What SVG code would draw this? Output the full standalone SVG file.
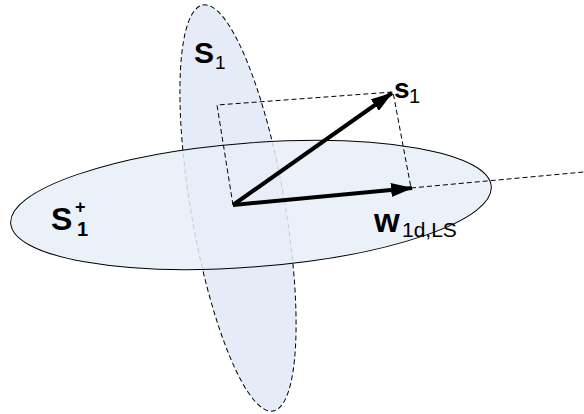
<svg xmlns="http://www.w3.org/2000/svg" width="584" height="414" viewBox="0 0 584 414">
<style>
.plane{fill:#e6ecf7;stroke:#000;stroke-width:1}
.dash{fill:none;stroke:#000;stroke-width:1;stroke-dasharray:5,3}
.vec{stroke:#000;stroke-width:4;fill:none}
.lbl{font-family:"Liberation Sans",Arial,sans-serif;fill:#000}
.b{font-weight:bold}
</style>
<defs>
<marker id="ah" markerWidth="22" markerHeight="14" refX="21" refY="7" orient="auto" markerUnits="userSpaceOnUse">
<path d="M0,0 L22,7 L0,14 Z" fill="#000"/>
</marker>
</defs>
<g id="plane-S1">
<ellipse class="plane" cx="238" cy="208" rx="47" ry="206" transform="rotate(-9.8 238 208)" stroke-dasharray="5,3"/>
</g>
<g id="plane-S1plus">
<ellipse cx="251" cy="205" rx="241" ry="62" transform="rotate(-4.4 251 205)" fill="#e8eef8" fill-opacity="0.85" stroke="#000" stroke-width="1"/>
</g>
<g id="connectors">
<path class="dash" d="M233,205 L217,105 L393,92 L411,188"/>
<path class="dash" d="M411,188 L584,172"/>
<line class="vec" x1="233" y1="205" x2="392" y2="93" marker-end="url(#ah)"/>
<line class="vec" x1="233" y1="205" x2="412" y2="188" stroke-width="3.5" marker-end="url(#ah)"/>
</g>
<g id="label-S1">
<text class="lbl b" x="194" y="63" font-size="30">S</text>
<text class="lbl" x="215" y="69" font-size="19">1</text>
</g>
<g id="label-s1">
<text class="lbl b" x="394" y="98" font-size="28">s</text>
<text class="lbl" x="409" y="103" font-size="20">1</text>
</g>
<g id="label-S1plus">
<text class="lbl b" x="51" y="230" font-size="32">S</text>
<text class="lbl b" x="75" y="213" font-size="18">+</text>
<text class="lbl b" x="77" y="236" font-size="20">1</text>
</g>
<g id="label-w">
<text class="lbl b" x="374" y="232" font-size="33">w</text>
<text class="lbl" x="402" y="237" font-size="21">1d,LS</text>
</g>
</svg>
